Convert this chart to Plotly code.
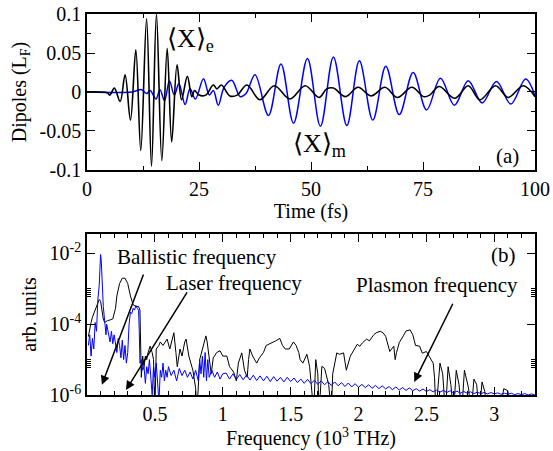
import numpy as np
import plotly.graph_objects as go

# ---------------- top panel: dipoles vs time ----------------
t_e = [0, 3, 4.5, 5.1, 6.1, 7.4, 8.5, 9.7, 10.9, 12.0, 13.3, 14.4, 15.5, 16.7, 17.9, 18.9,
       20.1, 21.1, 22.4, 23.4, 24.0, 25.0, 26.5, 28.2, 29.0, 30.0, 31.9, 33.5, 35.7, 38.6,
       41.8, 45.3, 48.7, 51.8, 53.5, 55.0, 57.7, 60.5, 63.4, 66.5, 69.3, 72.5, 75.2, 76.5,
       78.6, 82.1, 85.1, 87.7, 91.2, 94.0, 97.4, 100]
x_e = [0, 0, -0.001, -0.004, 0.005, -0.012, 0.022, -0.036, 0.054, -0.075, 0.094, -0.095,
       0.1, -0.088, 0.056, -0.064, 0.035, -0.010, 0.020, -0.006, 0.002, -0.004, -0.004,
       0.009, 0.004, 0.009, -0.005, -0.004, 0.009, -0.010, 0.008, -0.009, 0.008, -0.007,
       0.004, 0.005, -0.006, 0.006, -0.005, 0.006, -0.007, 0.006, -0.006, -0.004, 0.007,
       -0.008, 0.008, -0.010, 0.008, -0.007, 0.008, -0.006]

t_m = [0, 10, 11.0, 12.2, 13.3, 14.1, 15.4, 16.3, 17.3, 18.4, 19.5, 20.5, 21.9, 23.0, 24.2,
       26.0, 27.3, 28.2, 29.3, 30.6, 32.3, 34.2, 35.5, 37.5, 40.5, 43.3, 46.1, 49.2, 52.1,
       55.0, 58.0, 60.8, 63.8, 66.7, 69.7, 72.8, 75.8, 78.9, 82.0, 85.1, 88.2, 91.4, 94.6,
       97.9, 100]
x_m = [0, 0, 0.0015, 0.003, -0.002, 0.002, -0.009, 0.003, -0.011, 0.014, -0.004, 0.011,
       -0.016, 0.004, -0.009, 0.017, -0.004, 0.002, -0.017, 0.006, 0.015, -0.006, -0.002,
       0.022, -0.030, 0.036, -0.040, 0.043, -0.044, 0.045, -0.043, 0.040, -0.036, 0.033,
       -0.029, 0.025, -0.023, 0.0175, -0.017, 0.0145, -0.014, 0.0135, -0.0155, 0.0165, -0.005]

# ---------------- bottom panel: spectra (log10 of amplitude) ----------------
f_black = [0.01, 0.02, 0.03, 0.04, 0.05, 0.06, 0.07, 0.08, 0.09, 0.10, 0.11, 0.12, 0.13, 0.15,
           0.17, 0.19, 0.21, 0.22, 0.24, 0.26, 0.28, 0.30, 0.32, 0.34, 0.36, 0.38, 0.39, 0.40,
           0.41, 0.42, 0.43, 0.44, 0.45, 0.465, 0.48, 0.49, 0.50, 0.51, 0.53, 0.54, 0.56, 0.58,
           0.59, 0.61, 0.625, 0.64, 0.655, 0.665, 0.685, 0.70, 0.72, 0.73, 0.75, 0.78, 0.80,
           0.81, 0.83, 0.855, 0.876, 0.885, 0.90, 0.915, 0.93, 0.955, 0.98, 1.00, 1.03, 1.05,
           1.08, 1.10, 1.115, 1.14, 1.16, 1.18, 1.19, 1.20, 1.22, 1.25, 1.27, 1.30, 1.32, 1.35,
           1.37, 1.39, 1.42, 1.44, 1.46, 1.49, 1.52, 1.54, 1.56, 1.57, 1.59, 1.62, 1.64, 1.67,
           1.685, 1.70, 1.71, 1.73, 1.75, 1.78, 1.80, 1.81, 1.84, 1.86, 1.89, 1.91, 1.94, 1.96,
           1.99, 2.01, 2.03, 2.06, 2.08, 2.11, 2.13, 2.16, 2.18, 2.20, 2.22, 2.23, 2.26, 2.27,
           2.28, 2.30, 2.33, 2.35, 2.38, 2.40, 2.41, 2.42, 2.45, 2.47, 2.50, 2.52, 2.55, 2.56,
           2.57, 2.60, 2.62, 2.64, 2.66, 2.68, 2.70, 2.72, 2.74, 2.76, 2.78, 2.81, 2.83, 2.85,
           2.87, 2.89, 2.91, 2.93, 2.95, 2.97, 2.99, 3.04, 3.07, 3.10, 3.12, 3.30]
lg_black = [-4.35, -4.1, -3.95, -3.8, -3.7, -3.6, -3.55, -3.45, -3.3, -3.35, -3.6, -3.85, -3.95,
            -3.9, -3.88, -3.85, -3.55, -3.2, -2.85, -2.7, -2.7, -2.85, -3.2, -3.45, -3.5, -3.5,
            -3.6, -5.5, -4.9, -5.2, -4.9, -5.0, -4.8, -4.62, -4.8, -5.0, -6.5, -4.7, -4.6, -4.5,
            -4.6, -4.5, -4.42, -4.7, -4.5, -4.24, -4.8, -5.2, -4.7, -4.9, -4.5, -4.42, -4.9, -5.3,
            -5.8, -6.5, -5.0, -4.6, -4.33, -4.5, -4.9, -5.4, -4.95, -4.8, -4.75, -4.9, -4.9, -5.2,
            -5.35, -5.6, -5.1, -4.81, -5.3, -5.5, -5.0, -4.7, -4.9, -5.1, -4.95, -4.8, -4.6,
            -4.55, -4.5, -4.47, -4.4, -4.6, -4.7, -4.7, -4.5, -4.6, -4.8, -5.0, -5.1, -4.85, -5.2,
            -6.5, -5.0, -5.4, -6.5, -5.19, -5.25, -5.7, -6.5, -5.4, -4.81, -4.85, -4.81, -5.3,
            -4.9, -4.75, -4.57, -4.62, -4.52, -4.42, -4.47, -4.31, -4.24, -4.2, -4.24, -4.34,
            -4.62, -4.77, -4.62, -5.0, -4.8, -4.52, -4.33, -4.19, -4.16, -4.3, -4.45, -4.6,
            -4.62, -4.82, -4.77, -4.9, -5.1, -5.5, -6.5, -5.1, -5.4, -6.5, -5.2, -5.7, -6.5,
            -5.3, -5.7, -6.5, -5.3, -5.8, -6.5, -5.55, -5.7, -6.5, -5.63, -5.9, -6.5, -6.0,
            -6.5, -6.5, -5.82, -5.88, -6.5, -6.5]

f_blue = [0.01, 0.02, 0.03, 0.04, 0.05, 0.06, 0.07, 0.08, 0.09, 0.10, 0.105, 0.11, 0.12, 0.13,
          0.14, 0.145, 0.16, 0.17, 0.18, 0.19, 0.20, 0.21, 0.22, 0.23, 0.24, 0.25, 0.26, 0.27,
          0.28, 0.29, 0.30, 0.31, 0.32, 0.33, 0.34, 0.35, 0.36, 0.37, 0.38, 0.385, 0.39, 0.40,
          0.41, 0.42, 0.43, 0.44, 0.45, 0.46, 0.47, 0.48, 0.49, 0.50, 0.51, 0.52, 0.53, 0.54,
          0.55, 0.56, 0.57, 0.58, 0.59, 0.60, 0.62, 0.64, 0.66, 0.68, 0.70, 0.72, 0.74, 0.76,
          0.78, 0.80, 0.82, 0.83, 0.84, 0.85, 0.86, 0.87, 0.88, 0.89, 0.90, 0.92, 0.94, 0.96,
          0.98, 1.00,
          1.025, 1.05, 1.075, 1.10, 1.125, 1.15, 1.175, 1.20, 1.225, 1.25, 1.275, 1.30, 1.325,
          1.35, 1.375, 1.40, 1.425, 1.45, 1.475, 1.50,
          1.525, 1.55, 1.575, 1.60, 1.625, 1.65, 1.675, 1.70, 1.725, 1.75, 1.775, 1.80, 1.825,
          1.85, 1.875, 1.90, 1.925, 1.95, 1.975, 2.00,
          2.025, 2.05, 2.075, 2.10, 2.125, 2.15, 2.175, 2.20, 2.225, 2.25, 2.275, 2.30, 2.325,
          2.35, 2.375, 2.40, 2.425, 2.45, 2.475, 2.50,
          2.525, 2.55, 2.575, 2.60, 2.625, 2.65, 2.675, 2.70, 2.725, 2.75, 2.775, 2.80, 2.825,
          2.85, 2.875, 2.90, 2.925, 2.95, 2.975, 3.00,
          3.025, 3.05, 3.075, 3.10, 3.125, 3.15, 3.175, 3.20, 3.225, 3.25, 3.275, 3.30]
lg_blue = [-4.6, -4.3, -4.9, -4.4, -4.7, -3.95, -4.2, -3.3, -2.9, -2.03, -2.2, -2.8, -3.5, -3.9,
           -4.3, -4.0, -4.3, -4.5, -4.2, -4.55, -4.3, -4.6, -4.8, -4.4, -4.6, -4.95, -4.45, -5.0,
           -4.6, -5.1, -4.8, -4.0, -3.66, -3.7, -3.55, -3.6, -3.47, -3.55, -3.6, -4.2, -5.1, -5.0,
           -5.3, -5.2, -5.67, -5.2, -5.4, -5.0, -5.6, -6.0, -5.2, -5.5, -5.1, -5.6, -6.2, -5.3,
           -5.5, -5.1, -5.6, -5.3, -5.5, -5.2, -5.45, -5.3, -5.6, -5.25, -5.45, -5.3, -5.5, -5.35,
           -5.55, -5.3, -5.6, -5.0, -5.4, -4.9, -5.5, -4.8, -5.6, -5.0, -5.5, -5.3, -5.5, -5.35,
           -5.55, -5.4,
           -5.38, -5.55, -5.40, -5.56, -5.42, -5.57, -5.43, -5.58, -5.44, -5.59, -5.46, -5.60,
           -5.47, -5.62, -5.48, -5.61, -5.50, -5.63, -5.50, -5.62,
           -5.52, -5.65, -5.55, -5.67, -5.56, -5.68, -5.58, -5.70, -5.60, -5.71, -5.62, -5.73,
           -5.63, -5.74, -5.65, -5.76, -5.66, -5.77, -5.68, -5.78,
           -5.70, -5.79, -5.71, -5.81, -5.73, -5.82, -5.74, -5.83, -5.76, -5.85, -5.77, -5.86,
           -5.79, -5.87, -5.80, -5.88, -5.82, -5.89, -5.83, -5.90,
           -5.85, -5.91, -5.86, -5.92, -5.87, -5.93, -5.88, -5.94, -5.89, -5.95, -5.90, -5.95,
           -5.91, -5.96, -5.92, -5.96, -5.93, -5.97, -5.93, -5.97,
           -5.94, -5.98, -5.95, -5.98, -5.95, -5.99, -5.96, -5.99, -5.96, -6.0, -5.97, -6.0]

FONT = "Liberation Serif, Times New Roman, Times, serif"

fig = go.Figure()
fig.add_trace(go.Scatter(x=t_m, y=x_m, mode="lines", line=dict(color="#0000ff", width=1.5,
                         shape="spline", smoothing=1.0), xaxis="x", yaxis="y", showlegend=False))
fig.add_trace(go.Scatter(x=t_e, y=x_e, mode="lines", line=dict(color="black", width=1.6,
                         shape="spline", smoothing=1.0), xaxis="x", yaxis="y", showlegend=False))
fig.add_trace(go.Scatter(x=f_black, y=10 ** np.array(lg_black), mode="lines",
                         line=dict(color="black", width=1), xaxis="x2", yaxis="y2", showlegend=False))
fig.add_trace(go.Scatter(x=f_blue, y=10 ** np.array(lg_blue), mode="lines",
                         line=dict(color="#0000ff", width=1), xaxis="x2", yaxis="y2", showlegend=False))

axis_common = dict(showline=True, linecolor="black", linewidth=1.5, mirror="ticks", ticks="inside",
                   ticklen=8, tickwidth=1.2, tickcolor="black", showgrid=False, zeroline=False,
                   automargin=False, ticklabeloverflow="allow",
                   tickfont=dict(family=FONT, size=20, color="black"))

fig.update_layout(
    width=553, height=451,
    margin=dict(l=87, r=18, t=14, b=56),
    paper_bgcolor="white", plot_bgcolor="white",
    font=dict(family=FONT, size=20, color="black"),
    xaxis=dict(domain=[0, 1], anchor="y", range=[0, 100], tickvals=[0, 25, 50, 75, 100],
               minor=dict(tickvals=[12.5, 37.5, 62.5, 87.5], ticklen=4, tickcolor="black", ticks="inside"),
               title=dict(text="Time (fs)", font=dict(family=FONT, size=20), standoff=0),
               **axis_common),
    yaxis=dict(domain=[0.5906, 1], anchor="x", range=[-0.1, 0.1],
               tickvals=[-0.1, -0.05, 0, 0.05, 0.1], ticktext=["-0.1", "-0.05", "0", "0.05", "0.1"],
               minor=dict(tickvals=[-0.075, -0.025, 0.025, 0.075], ticklen=4, tickcolor="black", ticks="inside"),
               title=dict(text="Dipoles (L<sub>F</sub>)", font=dict(family=FONT, size=20), standoff=8),
               **axis_common),
    xaxis2=dict(domain=[0, 1], anchor="y2", range=[0, 3.3], tickvals=[0.5, 1, 1.5, 2, 2.5, 3],
                ticktext=["0.5", "1", "1.5", "2", "2.5", "3"],
                minor=dict(tickvals=[0.1, 0.2, 0.3, 0.4, 0.6, 0.7, 0.8, 0.9, 1.1, 1.2, 1.3, 1.4,
                                     1.6, 1.7, 1.8, 1.9, 2.1, 2.2, 2.3, 2.4, 2.6, 2.7, 2.8, 2.9,
                                     3.1, 3.2], ticklen=4, tickcolor="black", ticks="inside"),
                title=dict(text="Frequency (10<sup>3</sup> THz)", font=dict(family=FONT, size=20), standoff=0),
                **axis_common),
    yaxis2=dict(domain=[0, 0.4226], anchor="x2", type="log", range=[-6, -1.45],
                tickvals=[1e-6, 1e-4, 1e-2],
                ticktext=["10<sup>-6</sup>", "10<sup>-4</sup>", "10<sup>-2</sup>"],
                minor=dict(tickvals=[6e-6, 7e-6, 8e-6, 9e-6, 1e-5, 6e-4, 7e-4, 8e-4, 9e-4, 1e-3],
                           ticklen=4, tickcolor="black", ticks="inside"),
                title=dict(text="arb. units", font=dict(family=FONT, size=20), standoff=8),
                **axis_common),
)

ann_font = dict(family=FONT, size=21, color="black")
annotations = [
    dict(x=23, y=0.067, xref="x", yref="y", text="⟨X⟩<sub>e</sub>", showarrow=False,
         font=dict(family=FONT, size=26, color="black")),
    dict(x=52, y=-0.068, xref="x", yref="y", text="⟨X⟩<sub>m</sub>", showarrow=False,
         font=dict(family=FONT, size=26, color="black")),
    dict(x=93.8, y=-0.082, xref="x", yref="y", text="(a)", showarrow=False, font=ann_font),
    dict(x=3.07, y=-2.03, xref="x2", yref="y2", text="(b)", showarrow=False, font=ann_font),
    dict(x=0.81, y=-2.1, xref="x2", yref="y2", text="Ballistic frequency", showarrow=False, font=ann_font),
    dict(x=1.08, y=-2.83, xref="x2", yref="y2", text="Laser frequency", showarrow=False, font=ann_font),
    dict(x=2.58, y=-2.9, xref="x2", yref="y2", text="Plasmon frequency", showarrow=False, font=ann_font),
    dict(x=0.11, y=-5.71, ax=0.42, ay=-2.55, xref="x2", yref="y2", axref="x2", ayref="y2",
         text="", showarrow=True, arrowhead=2, arrowsize=1.2, arrowwidth=1.5, arrowcolor="black"),
    dict(x=0.287, y=-5.86, ax=0.744, ay=-3.06, xref="x2", yref="y2", axref="x2", ayref="y2",
         text="", showarrow=True, arrowhead=2, arrowsize=1.2, arrowwidth=1.5, arrowcolor="black"),
    dict(x=2.41, y=-5.63, ax=2.70, ay=-3.38, xref="x2", yref="y2", axref="x2", ayref="y2",
         text="", showarrow=True, arrowhead=2, arrowsize=1.2, arrowwidth=1.5, arrowcolor="black"),
]
fig.update_layout(annotations=annotations)

fig.write_html("out.html", config={"displayModeBar": False},
               post_script="document.body.style.margin='0';document.body.style.padding='0';")
